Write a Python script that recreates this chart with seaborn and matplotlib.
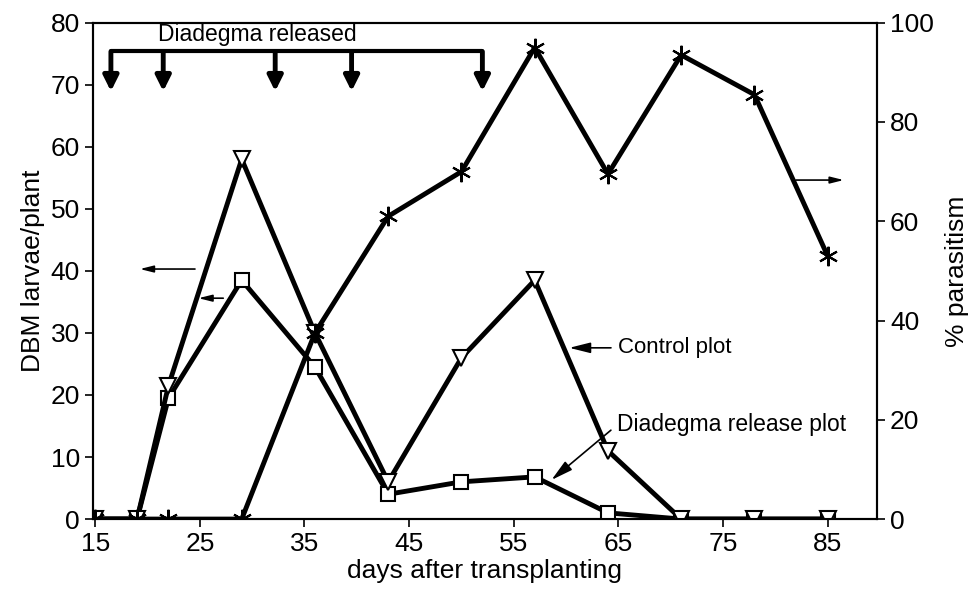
import pandas as pd
import numpy as np
import matplotlib
matplotlib.use('Agg')
import matplotlib.pyplot as plt
import seaborn as sns

# sampling days
days = [15, 19, 22, 29, 36, 43, 50, 57, 64, 71, 78, 85]

# DBM larvae per plant
control_plot = [0, 0, 21.5, 58, 30, 6, 26, 38.5, 11, 0, 0, 0]
release_plot = [0, 0, 19.5, 38.5, 24.5, 4, 6, 6.8, 1, 0, 0, 0]

# % parasitism (right axis)
parasitism = [0, 0, 0, 0, 37.5, 61, 70, 95, 69.5, 93.5, 85.5, 53]

# days when Diadegma was released
release_days = [16.5, 21.5, 32.2, 39.5, 52]

sns.set_style('ticks')
plt.rcParams['font.family'] = ['Liberation Sans', 'DejaVu Sans']
plt.rcParams['text.color'] = 'black'
plt.rcParams['axes.labelcolor'] = 'black'

larvae = pd.DataFrame({
    'days': days * 2,
    'larvae': control_plot + release_plot,
    'plot': ['Control plot'] * len(days) + ['Diadegma release plot'] * len(days),
})
para = pd.DataFrame({'days': days, 'parasitism': parasitism})

fig = plt.figure(figsize=(9.7, 5.98), dpi=100)
ax = fig.add_axes([0.096, 0.132, 0.808, 0.83])
ax2 = ax.twinx()

lw = 3.5
sns.lineplot(data=larvae[larvae['plot'] == 'Diadegma release plot'], x='days', y='larvae',
             color='black', lw=lw, marker='s', markersize=10, markerfacecolor='white',
             markeredgecolor='black', markeredgewidth=1.5, ax=ax, zorder=3)
sns.lineplot(data=larvae[larvae['plot'] == 'Control plot'], x='days', y='larvae',
             color='black', lw=lw, marker='v', markersize=12, markerfacecolor='white',
             markeredgecolor='black', markeredgewidth=1.5, ax=ax, zorder=4)
sns.lineplot(data=para, x='days', y='parasitism', color='black', lw=lw,
             marker=(6, 2, 0), markersize=14, markeredgewidth=1.5,
             markeredgecolor='black', ax=ax2, zorder=3)

ax.set_xlim(14.8, 89.7)
ax.set_ylim(0, 80)
ax2.set_ylim(0, 100)
ax.set_xticks(range(15, 86, 10))
ax.set_yticks(range(0, 81, 10))
ax2.set_yticks(range(0, 101, 20))

fs = 19
ax.tick_params(labelsize=fs, length=6, width=1.2, colors='black')
ax2.tick_params(labelsize=fs, length=6, width=1.2, colors='black')
ax.set_xlabel('days after transplanting', fontsize=fs, labelpad=2)
ax.set_ylabel('DBM larvae/plant', fontsize=fs, labelpad=4)
ax2.set_ylabel('% parasitism', fontsize=fs, labelpad=8)
for a in (ax, ax2):
    for s in a.spines.values():
        s.set_linewidth(1.5)
        s.set_color('black')

# release bracket with arrows
ax.plot([release_days[0], release_days[-1]], [75.5, 75.5], color='black', lw=3)
for d in release_days:
    ax.annotate('', xy=(d, 68.5), xytext=(d, 75.8),
                arrowprops=dict(arrowstyle='-|>,head_width=0.45,head_length=0.9',
                                color='black', lw=3.5))
ax.text(30.5, 76.2, 'Diadegma released', fontsize=16.5, ha='center', va='bottom')

# axis pointer arrows
arr = dict(arrowstyle='-|>,head_width=0.2,head_length=0.8', color='black', lw=1.2)
ax.annotate('', xy=(19.0, 40.3), xytext=(24.8, 40.3), arrowprops=arr)
ax.annotate('', xy=(24.6, 35.6), xytext=(27.5, 35.6), arrowprops=arr)
ax2.annotate('', xy=(86.8, 68.3), xytext=(81.7, 68.3), arrowprops=arr)

# series labels
lab_arr = dict(arrowstyle='-|>,head_width=0.2,head_length=0.8', color='black', lw=1.2,
               relpos=(0, 0.5), shrinkA=3, shrinkB=0)
ax.annotate('Control plot', xy=(60.3, 27.6), xytext=(65.0, 27.6), fontsize=16,
            ha='left', va='center', arrowprops=lab_arr)
ax.annotate('Diadegma release plot', xy=(58.6, 6.3), xytext=(64.9, 15.2), fontsize=16.5,
            ha='left', va='center', arrowprops=lab_arr)

fig.savefig('out.png', dpi=100)
